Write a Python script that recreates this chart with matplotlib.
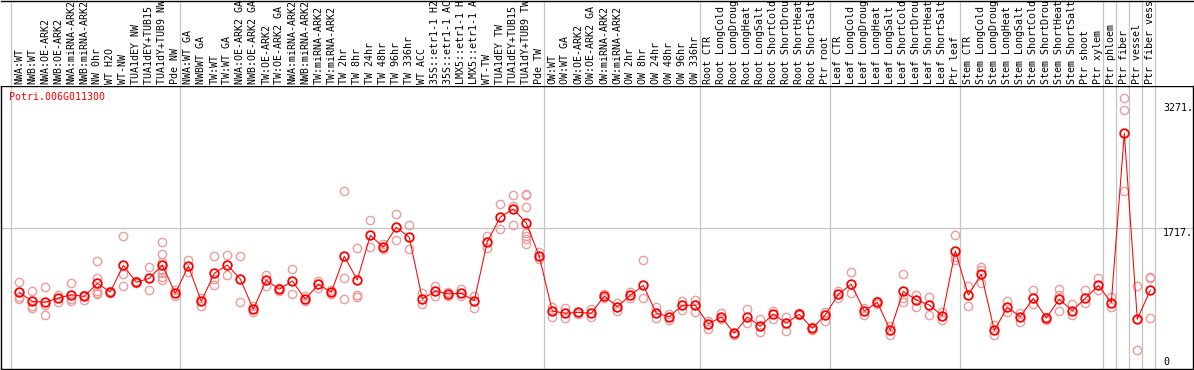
import matplotlib
matplotlib.use('Agg')
import matplotlib.pyplot as plt
import numpy as np

# sample labels, grouped by experiment
nw_labels = ["NWA:WT", "NWB:WT", "NWA:OE-ARK2", "NWB:OE-ARK2", "NWA:miRNA-ARK2",
             "NWB:miRNA-ARK2", "NW 0hr", "WT H2O", "WT-NW", "TUA1dEY NW",
             "TUA1dEY+TUB15 NW", "TUA1dY+TUB9 NW", "Pde NW"]
tw_labels = ["NWA:WT GA", "NWBWT GA", "TW:WT", "TW:WT GA", "NWA:OE-ARK2 GA",
             "NWB:OE-ARK2 GA", "TW:OE-ARK2", "TW:OE-ARK2 GA", "NWA:miRNA-ARK2",
             "NWB:miRNA-ARK2", "TW:miRNA-ARK2", "TW:miRNA-ARK2", "TW 2hr", "TW 8hr",
             "TW 24hr", "TW 48hr", "TW 96hr", "TW 336hr", "WT ACC", "35S::etr1-1 H2O",
             "35S::etr1-1 ACC", "LMX5::etr1-1 H2O", "LMX5::etr1-1 ACC", "WT-TW",
             "TUA1dEY TW", "TUA1dEY+TUB15 TW", "TUA1dY+TUB9 TW", "Pde TW"]
ow_labels = ["OW:WT", "OW:WT GA", "OW:OE-ARK2", "OW:OE-ARK2 GA", "OW:miRNA-ARK2",
             "OW:miRNA-ARK2", "OW 2hr", "OW 8hr", "OW 24hr", "OW 48hr", "OW 96hr", "OW 336hr"]
stress = ["CTR", "LongCold", "LongDrought", "LongHeat", "LongSalt",
          "ShortCold", "ShortDrought", "ShortHeat", "ShortSalt"]
root_labels = ["Root " + s for s in stress] + ["Ptr root"]
leaf_labels = ["Leaf " + s for s in stress] + ["Ptr leaf"]
stem_labels = ["Stem " + s for s in stress] + ["Ptr shoot", "Ptr xylem"]
ptr_labels = ["Ptr phloem", "Ptr fiber", "Ptr vessel", "Ptr fiber vessel"]

groups = [nw_labels, tw_labels, ow_labels, root_labels, leaf_labels, stem_labels,
          ptr_labels[:1], ptr_labels[1:2], ptr_labels[2:3], ptr_labels[3:]]
labels = [l for g in groups for l in g]

gene = "Potri.006G011300"

means = [925, 813, 801, 854, 895, 875, 1036, 929, 1259, 1049, 1098, 1263, 912,
         1250, 813, 1160, 1263, 1089, 714, 1075, 962, 1065, 838, 1024, 925, 1370,
         1077, 1630, 1483, 1729, 1606, 842, 941, 904, 912, 821, 1551, 1857, 1956,
         1783, 1370,
         693, 665, 677, 665, 879, 747, 888, 1011, 665, 623, 764, 764,
         532, 619, 417, 619, 504, 656, 541, 652, 479, 644,
         900, 1024, 693, 801, 454, 937, 829, 768, 634, 1436,
         891, 1148, 454, 739, 623, 850, 607, 838, 697, 850, 1009,
         798, 2893, 591, 951]

reps = [
    [1049, 863, 838], [941, 755, 727], [987, 768, 640], [895, 805], [1036, 838, 817],
    [891, 829], [1312, 1096, 937, 920, 904], [947, 910], [1622, 1151, 997], [1065, 1034],
    [1235, 950], [1544, 1399, 1306, 1201, 1160, 1114, 1077], [953, 879],
    [1325, 1174], [850, 761], [1370, 1089, 1009], [1384, 1135], [1374, 801], [759, 681],
    [1145, 1003], [972, 941], [1213, 900], [873, 811], [1065, 984], [953, 898],
    [2176, 1102, 842], [1470, 891, 863], [1817, 1489], [1523, 1461], [1892, 1569],
    [1758, 1457], [912, 784], [1003, 879], [929, 885], [962, 879], [883, 730],
    [1622, 1470], [2014, 1705], [2129, 1993, 1758],
    [2142, 2129, 1977, 1655, 1622, 1581, 1519], [1427, 1333],
    [747, 623], [734, 603], [687, 662], [714, 623], [898, 860], [789, 693], [932, 854],
    [1325, 850], [747, 610], [652, 582], [817, 706], [829, 685],
    [573, 474], [665, 591], [417, 396], [718, 548], [594, 437], [697, 594], [615, 449],
    [665, 644], [499, 458], [685, 569],
    [941, 858], [1176, 912], [727, 644], [823, 774], [511, 396], [1148, 850, 808],
    [891, 739], [863, 644], [677, 582], [1634, 1366, 1325],
    [1003, 759], [1234, 1201, 1040], [520, 396], [817, 685], [665, 561], [953, 780],
    [623, 582], [966, 891, 693], [780, 644], [953, 796], [1102, 953],
    [870, 747], [3327, 3182, 2183], [1003, 205], [1120, 1102, 603],
]

yticks = [0, 1717, 3271]

W, H = 1194, 370
fig = plt.figure(figsize=(W / 100, H / 100), dpi=100)


def px_axes(x0, y0, x1, y1):
    return fig.add_axes([x0 / W, 1 - y1 / H, (x1 - x0) / W, (y1 - y0) / H])


ax = px_axes(1, 85.5, 1193, 368.5)
lab = px_axes(1, 0.5, 1193, 85.5)

step, x_first, y_zero, per_px = 13.0, 19.3, 367.0, 12.38
xlim = ((1 - x_first) / step, (1193 - x_first) / step)
for a in (ax, lab):
    a.set_xlim(*xlim)
    a.set_xticks([])
    a.set_yticks([])
ax.set_ylim(-(368.5 - y_zero) * per_px, (y_zero - 85.5) * per_px)
lab.set_ylim(0, 85)

mono = 'DejaVu Sans Mono'
grid_c = '#c4c4c4'

# group separators
bounds = [-1] + list(np.cumsum([len(g) for g in groups]) - 1)
for b in bounds:
    for a in (ax, lab):
        a.axvline(b + 0.36, color=grid_c, lw=0.9, zorder=0)
ax.axhline(yticks[1], color=grid_c, lw=0.9, zorder=0)

x = np.arange(len(labels))
for i, r in enumerate(reps):
    ax.plot([i] * len(r), r, 'o', mfc='none', mec='#ee9c9c', ms=6, mew=1.0, zorder=2)
ax.plot(x, means, color='red', lw=0.75, zorder=3)
ax.plot(x, means, 'o', mfc='none', mec='red', ms=6.2, mew=1.3, zorder=4)

for s in ax.spines.values():
    s.set_color('black')
    s.set_linewidth(1.0)
for k, s in lab.spines.items():
    s.set_visible(k == 'top')
    s.set_linewidth(1.0)

for i, l in enumerate(labels):
    lab.text(i, 1.5, l, rotation=90, ha='center', va='bottom', fontsize=7.2,
             family=mono, clip_on=True)

ax.text((9 - 1) / 1192, 1 - (92 - 85.5) / 283, gene, transform=ax.transAxes,
        color='red', fontsize=7.2, family=mono, ha='left', va='top')

tx = (1163 - x_first) / step
ax.text(tx, yticks[2], '3271.', fontsize=7.2, family=mono, ha='left', va='top')
ax.text(tx, yticks[1], '1717.', fontsize=7.2, family=mono, ha='left', va='top')
ax.text(tx, yticks[0], '0', fontsize=7.2, family=mono, ha='left', va='bottom')

fig.savefig('out.png', dpi=100)
